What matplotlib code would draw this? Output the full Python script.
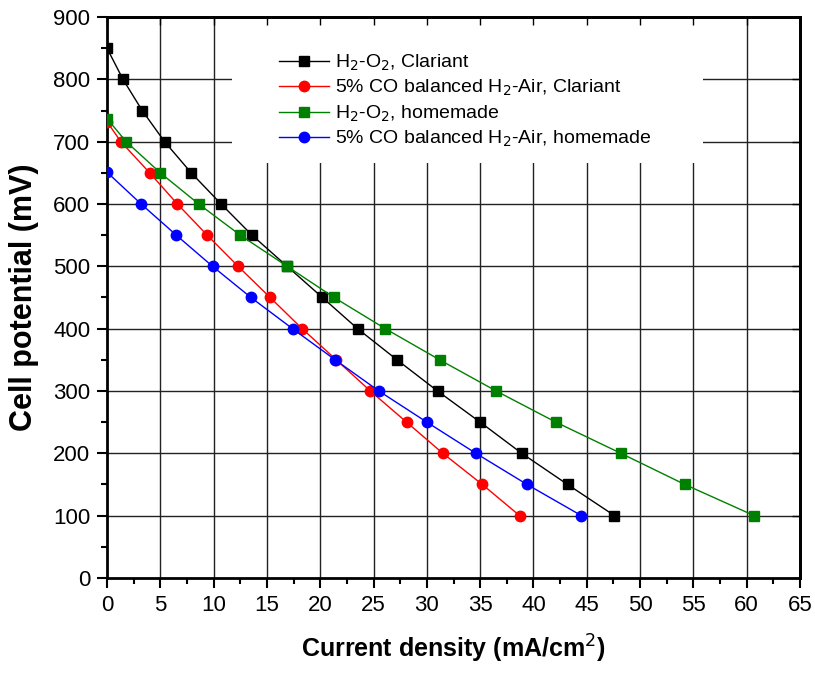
import matplotlib.pyplot as plt
from matplotlib.ticker import MultipleLocator
from matplotlib.patches import Rectangle

plt.rcParams['font.family'] = ['Liberation Sans', 'DejaVu Sans']

# cell potential levels (mV) and current densities (mA/cm2)
v_black = [850, 800, 750, 700, 650, 600, 550, 500, 450, 400, 350, 300, 250, 200, 150, 100]
j_black = [0, 1.5, 3.3, 5.4, 7.9, 10.7, 13.6, 16.9, 20.2, 23.5, 27.2, 31.0, 35.0, 38.9, 43.2, 47.6]

v_red = [732, 700, 650, 600, 550, 500, 450, 400, 350, 300, 250, 200, 150, 100]
j_red = [0, 1.3, 4.0, 6.6, 9.4, 12.3, 15.3, 18.3, 21.5, 24.7, 28.1, 31.5, 35.2, 38.7]

v_green = [737, 700, 650, 600, 550, 500, 450, 400, 350, 300, 250, 200, 150, 100]
j_green = [0, 1.8, 5.0, 8.6, 12.5, 16.9, 21.3, 26.1, 31.2, 36.5, 42.1, 48.2, 54.2, 60.7]

v_blue = [651, 600, 550, 500, 450, 400, 350, 300, 250, 200, 150, 100]
j_blue = [0, 3.2, 6.5, 9.9, 13.5, 17.4, 21.4, 25.5, 30.0, 34.6, 39.4, 44.5]

fig = plt.figure(figsize=(8.15, 6.73), dpi=100)
ax = fig.add_axes([0.1313, 0.1412, 0.8503, 0.8335])

ax.plot(j_black, v_black, color='black', marker='s', ms=6.5, lw=1, label='H$_2$-O$_2$, Clariant', zorder=5)
ax.plot(j_red, v_red, color='red', marker='o', ms=7.5, lw=1, label='5% CO balanced H$_2$-Air, Clariant', zorder=5)
ax.plot(j_green, v_green, color='green', marker='s', ms=6.5, lw=1, label='H$_2$-O$_2$, homemade', zorder=5)
ax.plot(j_blue, v_blue, color='blue', marker='o', ms=7.5, lw=1, label='5% CO balanced H$_2$-Air, homemade', zorder=5)

ax.set_xlim(0, 65)
ax.set_ylim(0, 900)
ax.xaxis.set_major_locator(MultipleLocator(5))
ax.xaxis.set_minor_locator(MultipleLocator(2.5))
ax.yaxis.set_major_locator(MultipleLocator(100))
ax.yaxis.set_minor_locator(MultipleLocator(50))
ax.set_axisbelow(True)

# grid drawn by hand so the legend background can hide it but not the ticks
for x in range(5, 65, 5):
    ax.axvline(x, color='#222222', lw=1, zorder=0.3)
for y in range(100, 900, 100):
    ax.axhline(y, color='#222222', lw=1, zorder=0.3)
ax.add_patch(Rectangle((0.18, 0.74), 0.68, 0.26, transform=ax.transAxes,
                       facecolor='white', edgecolor='none', zorder=0.4))

for s in ax.spines.values():
    s.set_linewidth(2)
ax.tick_params(which='major', direction='out', length=7, width=1.5, labelsize=16, pad=5)
ax.tick_params(which='minor', direction='out', length=4, width=1.5)

sx = ax.secondary_xaxis('top')
sx.xaxis.set_major_locator(MultipleLocator(5))
sx.tick_params(direction='in', length=6, width=1, labeltop=False)
sx.spines['top'].set_linewidth(2)
sx.set_zorder(3)
sy = ax.secondary_yaxis('right')
sy.yaxis.set_major_locator(MultipleLocator(100))
sy.tick_params(direction='in', length=6, width=1, labelright=False)
sy.spines['right'].set_linewidth(2)
sy.set_zorder(3)

ax.set_xlabel('Current density (mA/cm$^2$)', fontsize=18, fontweight='bold', labelpad=12)
ax.set_ylabel('Cell potential (mV)', fontsize=22, fontweight='bold', labelpad=10)

leg = ax.legend(loc='upper left', bbox_to_anchor=(0.248, 0.937), fontsize=14,
                frameon=False, handlelength=2.6, handletextpad=0.3,
                labelspacing=0.27, borderpad=0.0, borderaxespad=0)

fig.savefig('out.png', dpi=100)
